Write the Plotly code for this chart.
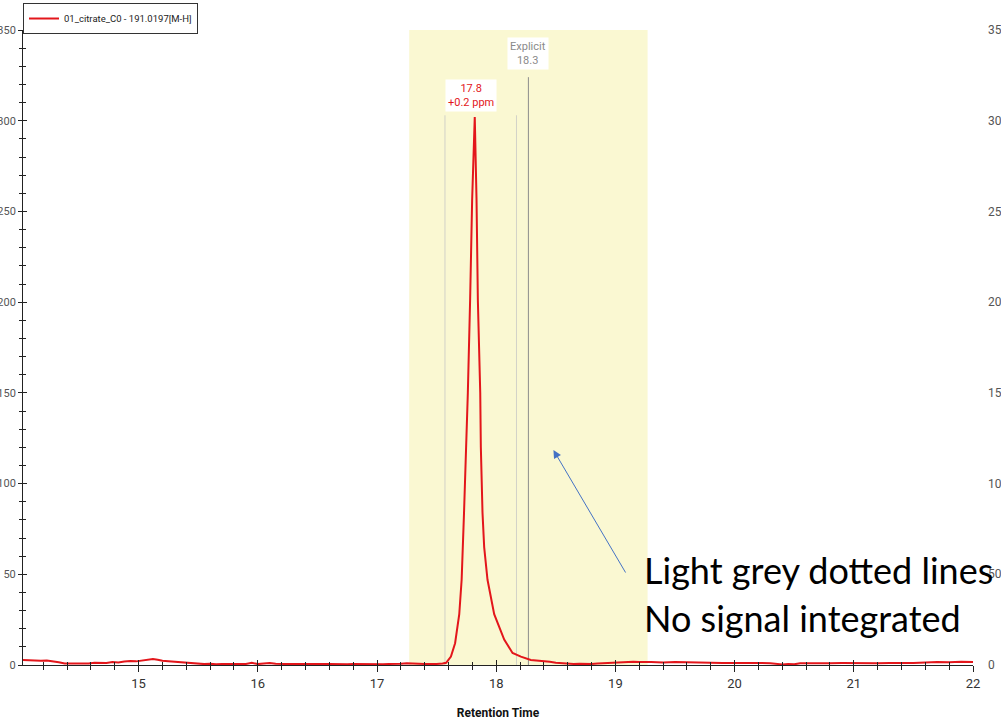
import plotly.graph_objects as go

# ---------------- data ----------------
series_name = "01_citrate_C0 - 191.0197[M-H]"

rt_base_left = [14.03, 14.08, 14.13, 14.18, 14.23, 14.28, 14.33, 14.38, 14.43, 14.48,
                14.53, 14.58, 14.63, 14.68, 14.73, 14.78, 14.83, 14.88, 14.93, 14.98,
                15.03, 15.08, 15.12, 15.16, 15.20, 15.25, 15.30, 15.35, 15.40, 15.45,
                15.50, 15.55, 15.60, 15.65, 15.70, 15.75, 15.80, 15.85, 15.90, 15.95,
                16.00, 16.05, 16.10, 16.15, 16.20, 16.25, 16.30, 16.35, 16.40, 16.45,
                16.50, 16.55, 16.60, 16.65, 16.70, 16.75, 16.80, 16.85, 16.90, 16.95,
                17.00, 17.05, 17.10, 17.15, 17.20, 17.25, 17.30, 17.35, 17.40, 17.45,
                17.50]
int_base_left = [2.8, 2.6, 2.7, 2.4, 2.5, 2.2, 1.5, 0.8, 0.7, 0.9,
                 0.6, 0.8, 1.2, 1.0, 1.1, 1.6, 1.4, 1.9, 2.2, 2.0,
                 2.4, 2.6, 3.3, 2.9, 2.3, 2.0, 1.8, 1.4, 1.0, 0.9,
                 0.6, 0.5, 0.7, 0.4, 0.6, 0.5, 0.8, 0.5, 0.6, 1.2,
                 0.5, 0.8, 1.1, 0.7, 0.4, 0.5, 0.6, 0.4, 0.5, 0.6,
                 0.4, 0.5, 0.6, 0.4, 0.5, 0.4, 0.6, 0.5, 0.4, 0.5,
                 0.5, 0.4, 0.6, 0.5, 0.7, 0.9, 1.0, 0.7, 0.6, 0.5,
                 0.6]

rt_peak = [17.55, 17.58, 17.62, 17.655, 17.69, 17.71, 17.73, 17.75, 17.762, 17.781,
           17.798, 17.82, 17.835, 17.846, 17.866, 17.871, 17.885, 17.899, 17.927, 17.983,
           18.067, 18.137, 18.207, 18.29]
int_peak = [0.8, 1.2, 4.6, 12.0, 28.0, 47.0, 84.0, 120.0, 150.0, 201.0,
            256.0, 302.0, 256.0, 201.0, 150.0, 120.0, 84.0, 65.0, 47.0, 28.0,
            14.0, 6.6, 4.6, 2.8]

rt_base_right = [18.35, 18.40, 18.45, 18.50, 18.55, 18.60, 18.65, 18.70, 18.75, 18.80,
                 18.85, 18.90, 18.95, 19.00, 19.05, 19.10, 19.15, 19.20, 19.25, 19.30,
                 19.40, 19.50, 19.60, 19.70, 19.80, 19.90, 20.00, 20.10, 20.20, 20.30,
                 20.35, 20.40, 20.45, 20.50, 20.55, 20.60, 20.70, 20.80, 20.90, 21.00,
                 21.10, 21.20, 21.30, 21.40, 21.50, 21.60, 21.70, 21.80, 21.90, 22.00]
int_base_right = [2.5, 2.2, 1.8, 1.3, 1.0, 0.8, 0.6, 0.7, 0.5, 0.6,
                  0.8, 1.0, 1.2, 1.4, 1.3, 1.6, 1.8, 1.7, 1.5, 1.6,
                  1.4, 1.7, 1.5, 1.2, 1.3, 1.1, 1.2, 1.0, 1.1, 1.0,
                  0.8, 0.3, 0.6, 0.4, 0.9, 1.0, 1.1, 1.0, 1.1, 1.0,
                  1.1, 1.0, 1.1, 1.0, 1.1, 1.4, 1.7, 1.5, 1.8, 1.6]

retention_time = rt_base_left + rt_peak + rt_base_right
intensity = int_base_left + int_peak + int_base_right

window_start, window_end = 17.27, 19.27
boundary_times = [17.57, 18.17]
boundary_top = 303
explicit_rt = 18.27
explicit_top = 324
peak_rt = 17.82

x_range = [14.03, 22.0]
y_range = [0, 350]
x_ticks = [15, 16, 17, 18, 19, 20, 21, 22]
y_ticks = [0, 50, 100, 150, 200, 250, 300, 350]

peak_label = "17.8<br>+0.2 ppm"
explicit_label = "Explicit<br>18.3"
note_line1 = "Light grey dotted lines"
note_line2 = "No signal integrated"

# ---------------- figure ----------------
NARROW = "Roboto, Liberation Sans, sans-serif"
RED = "#E3161B"

fig = go.Figure()
fig.add_trace(go.Scatter(x=retention_time, y=intensity, mode="lines",
                         name=series_name, line=dict(color=RED, width=2)))
# helper (empty) traces so the overlay axes are drawn
fig.add_trace(go.Scatter(x=[None], y=[None], xaxis="x2", yaxis="y3", mode="lines",
                         showlegend=False, hoverinfo="skip"))
fig.add_trace(go.Scatter(x=[None], y=[None], xaxis="x", yaxis="y2", mode="lines",
                         showlegend=False, hoverinfo="skip"))

# shaded integration window
fig.add_shape(type="rect", xref="x", yref="paper", x0=window_start, x1=window_end,
              y0=0, y1=1, fillcolor="#FAF8D2", line=dict(width=0), layer="below")
for bt in boundary_times:
    fig.add_shape(type="line", xref="x", yref="y", x0=bt, x1=bt, y0=0, y1=boundary_top,
                  line=dict(color="#D2D2C8", width=1), layer="below")
fig.add_shape(type="line", xref="x", yref="y", x0=explicit_rt, x1=explicit_rt, y0=0,
              y1=explicit_top, line=dict(color="#8C8C8C", width=1), layer="below")

fig.add_annotation(x=peak_rt - 0.03, y=314, xref="x", yref="y", text=peak_label,
                   showarrow=False, font=dict(family=NARROW, size=11, color=RED),
                   bgcolor="white", borderpad=2)
fig.add_annotation(x=explicit_rt, y=337, xref="x", yref="y", text=explicit_label,
                   showarrow=False, font=dict(family=NARROW, size=11, color="#8A8A8A"),
                   bgcolor="white", borderpad=2)

# arrow and note
fig.add_annotation(x=18.48, y=118.5, xref="x", yref="y", ax=73, ay=124,
                   text="", showarrow=True, arrowhead=2, arrowsize=1.6, arrowwidth=1,
                   arrowcolor="#4472C4")
fig.add_annotation(x=0.6515, y=0.150, xref="paper", yref="paper", xanchor="left",
                   yanchor="middle", text=note_line1, showarrow=False,
                   font=dict(family="Lato", size=36, color="black"))
fig.add_annotation(x=0.6515, y=0.074, xref="paper", yref="paper", xanchor="left",
                   yanchor="middle", text=note_line2, showarrow=False,
                   font=dict(family="Lato", size=36, color="black"))

axis_common = dict(showgrid=False, zeroline=False, showline=True, linecolor="#222",
                   linewidth=1, tickcolor="#222", automargin=False)

fig.update_layout(
    width=1001, height=723,
    margin=dict(l=23, r=28, t=30, b=58, autoexpand=False),
    paper_bgcolor="white", plot_bgcolor="white",
    showlegend=True,
    legend=dict(x=0, y=1.0425, xanchor="left", yanchor="top",
                bordercolor="#333", borderwidth=1, bgcolor="white",
                font=dict(family=NARROW, size=9.5, color="#222"),
                itemwidth=30, tracegroupgap=0),
    xaxis=dict(range=x_range, tickvals=x_ticks, ticks="outside", ticklen=6,
               tickfont=dict(family=NARROW, size=13, color="#333"),
               minor=dict(dtick=0.2, tick0=15, ticks="outside", ticklen=4, tickcolor="#222"),
               title=dict(text="<b>Retention Time</b>", standoff=19,
                          font=dict(family=NARROW, size=12, color="#111")),
               **axis_common),
    yaxis=dict(range=y_range, tickvals=y_ticks, ticks="outside", ticklen=4,
               ticklabelstandoff=0,
               tickfont=dict(family=NARROW, size=11, color="#555"),
               minor=dict(dtick=10, tick0=0, ticks="outside", ticklen=3, tickcolor="#222"),
               **axis_common),
    xaxis2=dict(range=x_range, overlaying="x", anchor="y", side="bottom",
                tickvals=x_ticks, ticks="inside", ticklen=5, showticklabels=False,
                minor=dict(dtick=0.2, tick0=15, ticks="inside", ticklen=3, tickcolor="#222"),
                **axis_common),
    yaxis3=dict(range=y_range, overlaying="y", anchor="x", side="left",
                tickvals=y_ticks, ticks="inside", ticklen=4, showticklabels=False,
                minor=dict(dtick=10, tick0=0, ticks="inside", ticklen=3, tickcolor="#222"),
                **axis_common),
    yaxis2=dict(range=y_range, overlaying="y", anchor="x", side="right",
                tickvals=y_ticks, ticks="", showline=False, showgrid=False, zeroline=False,
                ticklabelstandoff=14, automargin=False,
                tickfont=dict(family=NARROW, size=12, color="#555")),
)

fig.write_html("out.html", config={"displayModeBar": False},
               post_script="document.body.style.margin='0';")
